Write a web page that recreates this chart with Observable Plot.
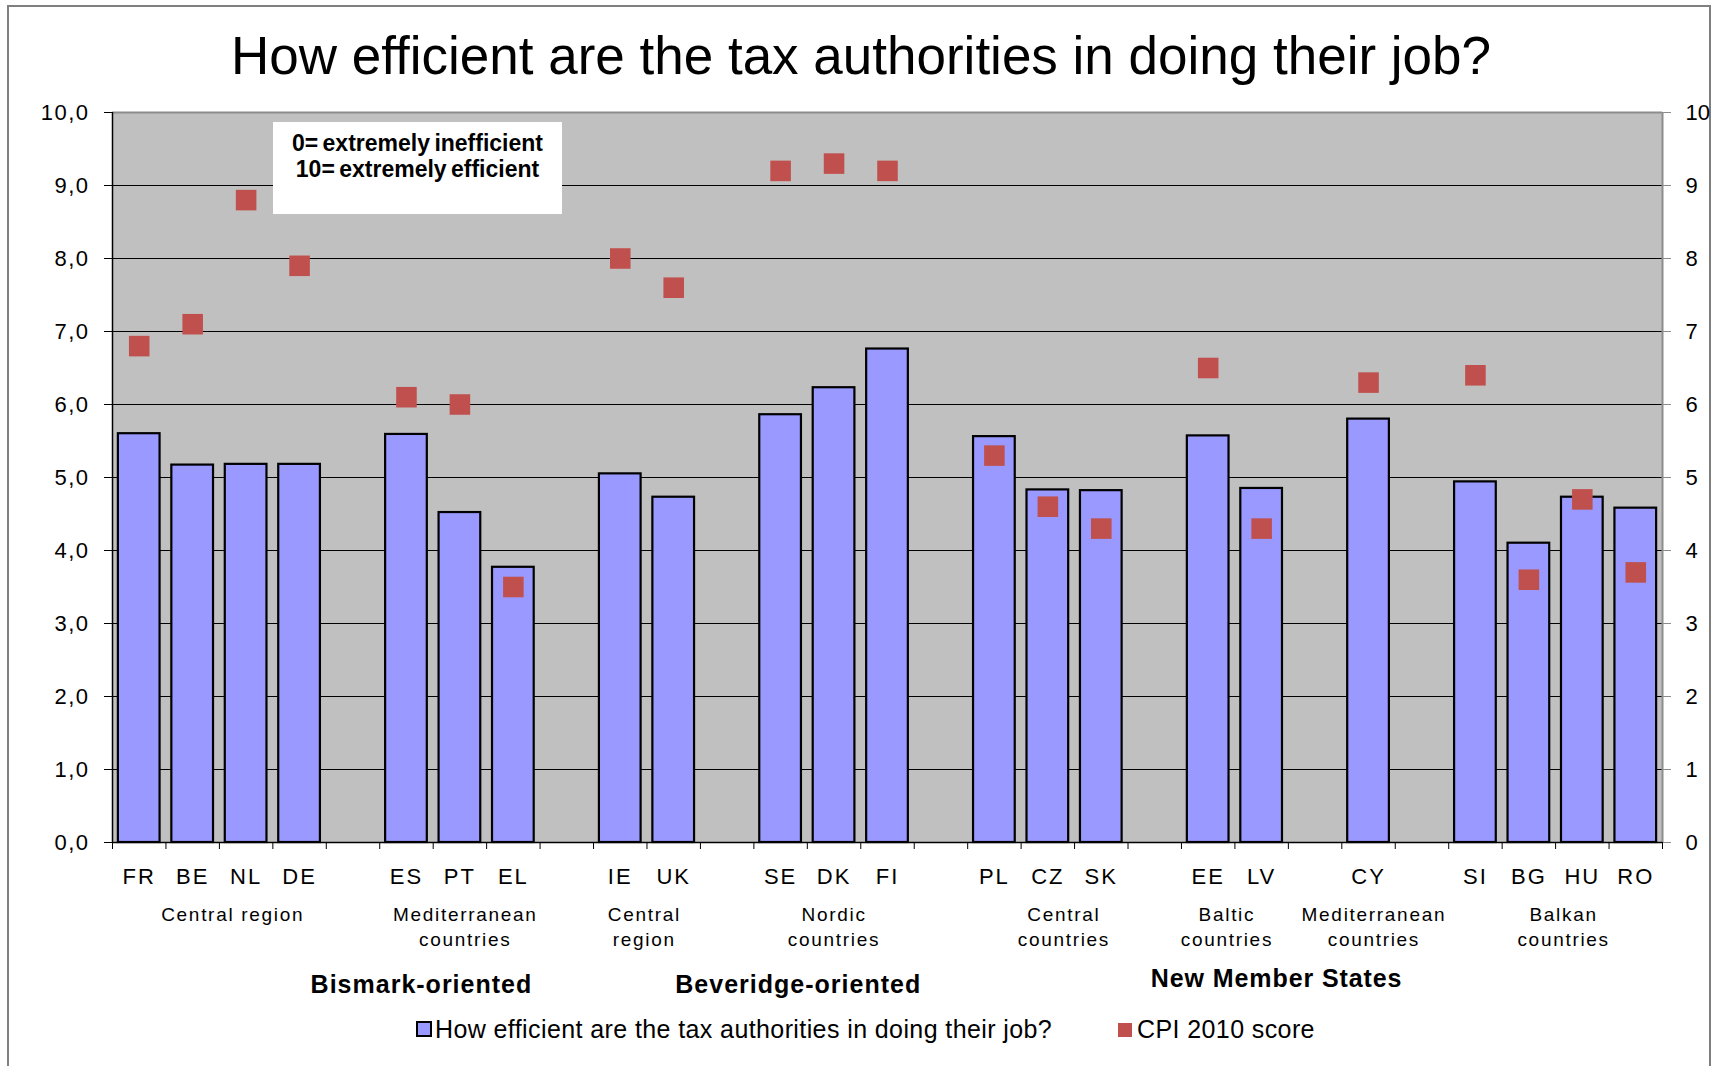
<!DOCTYPE html>
<html>
<head>
<meta charset="utf-8">
<script src="https://cdn.jsdelivr.net/npm/d3@7"></script>
<script src="https://cdn.jsdelivr.net/npm/@observablehq/plot@0.6"></script>
<style>
  html, body { margin: 0; padding: 0; background: #fff; }
  body { font-family: "Liberation Sans", Arial, sans-serif; color: #000; }
  #wrap { position: relative; width: 1719px; height: 1066px; overflow: hidden; }
  #border { position: absolute; left: 7px; top: 5px; width: 1704px; height: 1100px; border: 2px solid #7f7f7f; box-sizing: border-box; }
  #title { position: absolute; left: 0; top: 29px; width: 1722px; text-align: center; font-size: 53px; line-height: 53px; white-space: nowrap; }
  #chart { position: absolute; left: 0; top: 100px; }
  #note { position: absolute; left: 273px; top: 122px; width: 289px; height: 92px; background: #fff; font-weight: bold; font-size: 23px; text-align: center; word-spacing: -2px; }
  #note div { position: absolute; left: 0; width: 100%; line-height: 23px; }
  #legend { position: absolute; left: 0; top: 1017px; width: 1719px; height: 30px; font-size: 25px; line-height: 25px; }
  .lg { position: absolute; top: 0; white-space: nowrap; letter-spacing: 0.4px; }
  .sw { position: absolute; box-sizing: border-box; }
</style>
</head>
<body>
<div id="wrap">
  <div id="border"></div>
  <div id="title"></div>
  <div id="chart"></div>
  <div id="note"></div>
  <div id="legend"></div>
</div>
<script>
// ---------------- data ----------------
const titleText = "How efficient are the tax authorities in doing their job?";
const countries = ["FR","BE","NL","DE","ES","PT","EL","IE","UK","SE","DK","FI","PL","CZ","SK","EE","LV","CY","SI","BG","HU","RO"];
const efficiency = [5.60,5.17,5.18,5.18,5.59,4.52,3.77,5.05,4.73,5.86,6.23,6.76,5.56,4.83,4.82,5.57,4.85,5.80,4.94,4.10,4.73,4.58];
const cpi2010 = [6.8,7.1,8.8,7.9,6.1,6.0,3.5,8.0,7.6,9.2,9.3,9.2,5.3,4.6,4.3,6.5,4.3,6.3,6.4,3.6,4.7,3.7];
const clusterLabels = ["Central region","Mediterranean\ncountries","Central\nregion","Nordic\ncountries","Central\ncountries","Baltic\ncountries","Mediterranean\ncountries","Balkan\ncountries"];
const clusterMembers = [["FR","BE","NL","DE"],["ES","PT","EL"],["IE","UK"],["SE","DK","FI"],["PL","CZ","SK"],["EE","LV"],["CY"],["SI","BG","HU","RO"]];
const gapAfterCluster = [true,true,true,true,true,true,true,false];
const superLabels = ["Bismark-oriented","Beveridge-oriented","New Member States"];
const seriesNames = ["How efficient are the tax authorities in doing their job?","CPI 2010 score"];
const noteLines = ["0= extremely inefficient","10= extremely efficient"];
const yTicks = [0,1,2,3,4,5,6,7,8,9,10];

// ---------------- layout (slot positions) ----------------
const slotOf = {};
let s = 0;
const clusterCenters = [];
clusterMembers.forEach((m, i) => {
  const first = s;
  m.forEach(c => { slotOf[c] = s++; });
  clusterCenters.push((first + s) / 2);
  if (gapAfterCluster[i]) s++;
});
const nSlots = s; // 29
const superAnchor = [5.78, 12.83, 21.78];
const clusterShift = [0.25, 0.1, -0.05, 0, 0.3, -0.15, 0.1, 0.15];

const bars = countries.map((c, i) => ({code: c, slot: slotOf[c], eff: efficiency[i], cpi: cpi2010[i]}));
const groups = clusterLabels.map((l, i) => ({label: l, x: clusterCenters[i] + clusterShift[i]}));
const supers = superLabels.map((l, i) => ({label: l, x: superAnchor[i]}));
const pad = 0.11;

document.getElementById("title").textContent = titleText;

const chart = Plot.plot({
  width: 1719,
  height: 900,
  marginLeft: 112,
  marginRight: 57,
  marginTop: 12,
  marginBottom: 158,
  x: {domain: [0, nSlots], axis: null, label: null},
  y: {domain: [0, 10], axis: null, label: null},
  style: {background: "transparent", fontFamily: "'Liberation Sans', Arial, sans-serif", color: "#000", overflow: "visible"},
  marks: [
    Plot.frame({fill: "#c0c0c0", stroke: null}),
    Plot.ruleY(yTicks.filter(d => d > 0 && d < 10), {stroke: "#000", strokeWidth: 1.2}),
    Plot.ruleY([10], {stroke: "#8c8c8c", strokeWidth: 2}),
    Plot.ruleX([nSlots], {stroke: "#8c8c8c", strokeWidth: 2}),
    Plot.rect(bars, {x1: d => d.slot + pad, x2: d => d.slot + 1 - pad, y1: 0, y2: "eff", fill: "#9999ff", stroke: "#000", strokeWidth: 2.2}),
    Plot.dot(bars, {x: d => d.slot + 0.5, y: "cpi", symbol: "square", r: 11.6, fill: "#c0504d", stroke: null}),
    Plot.ruleX([0], {stroke: "#000", strokeWidth: 1.5}),
    Plot.ruleY([0], {stroke: "#000", strokeWidth: 1.5}),
    Plot.axisY({anchor: "left", ticks: yTicks, tickFormat: d => d.toFixed(1).replace(".", ","), tickSize: 8, tickPadding: 15, fontSize: 22, label: null}),
    Plot.axisY({anchor: "right", ticks: yTicks, tickFormat: d => String(d), tickSize: 8, tickPadding: 15, fontSize: 22, stroke: "#8c8c8c", label: null}),
    Plot.axisX({anchor: "bottom", ticks: d3.range(0, nSlots + 1), tickFormat: () => "", tickSize: 7, label: null}),
    Plot.text(bars, {x: d => d.slot + 0.5, y: 0, text: "code", dy: 41, lineAnchor: "bottom", fontSize: 22}),
    Plot.text(groups, {x: "x", y: 0, text: "label", dy: 61, lineAnchor: "top", lineHeight: 1.3, fontSize: 19}),
    Plot.text(supers.slice(0, 2), {x: "x", y: 0, text: "label", dy: 150, lineAnchor: "bottom", fontSize: 25, fontWeight: "bold"}),
    Plot.text(supers.slice(2), {x: "x", y: 0, text: "label", dy: 144, lineAnchor: "bottom", fontSize: 25, fontWeight: "bold"})
  ]
});
document.getElementById("chart").appendChild(chart);

// letter spacing to match the reference's wide text rendering
const countrySet = new Set(countries);
const groupSet = new Set(clusterLabels.map(l => l.replace("\n", "")));
const superSet = new Set(superLabels);
d3.select(chart).selectAll("text").each(function () {
  const t = this.textContent;
  if (countrySet.has(t)) this.style.letterSpacing = "2px";
  else if (groupSet.has(t)) this.style.letterSpacing = "1.7px";
  else if (t === superLabels[2]) this.style.letterSpacing = "0.9px";
  else if (superSet.has(t)) this.style.letterSpacing = "1px";
  else if (/,/.test(t)) this.style.letterSpacing = "1.5px";
});

// note box
const note = document.getElementById("note");
noteLines.forEach((t, i) => {
  const d = document.createElement("div");
  d.textContent = t;
  d.style.top = (i === 0 ? 10 : 36) + "px";
  note.appendChild(d);
});

// legend
const legend = document.getElementById("legend");
const legendItems = [
  {name: seriesNames[0], sw: {left: 416, top: 4, w: 16, h: 16, bg: "#9999ff", border: "2px solid #000"}, tx: 435},
  {name: seriesNames[1], sw: {left: 1118, top: 6, w: 14, h: 14, bg: "#c0504d", border: "none"}, tx: 1137}
];
legendItems.forEach(it => {
  const sw = document.createElement("div");
  sw.className = "sw";
  Object.assign(sw.style, {left: it.sw.left + "px", top: it.sw.top + "px", width: it.sw.w + "px", height: it.sw.h + "px", background: it.sw.bg, border: it.sw.border});
  legend.appendChild(sw);
  const t = document.createElement("div");
  t.className = "lg";
  t.style.left = it.tx + "px";
  t.textContent = it.name;
  legend.appendChild(t);
});
</script>
</body>
</html>
